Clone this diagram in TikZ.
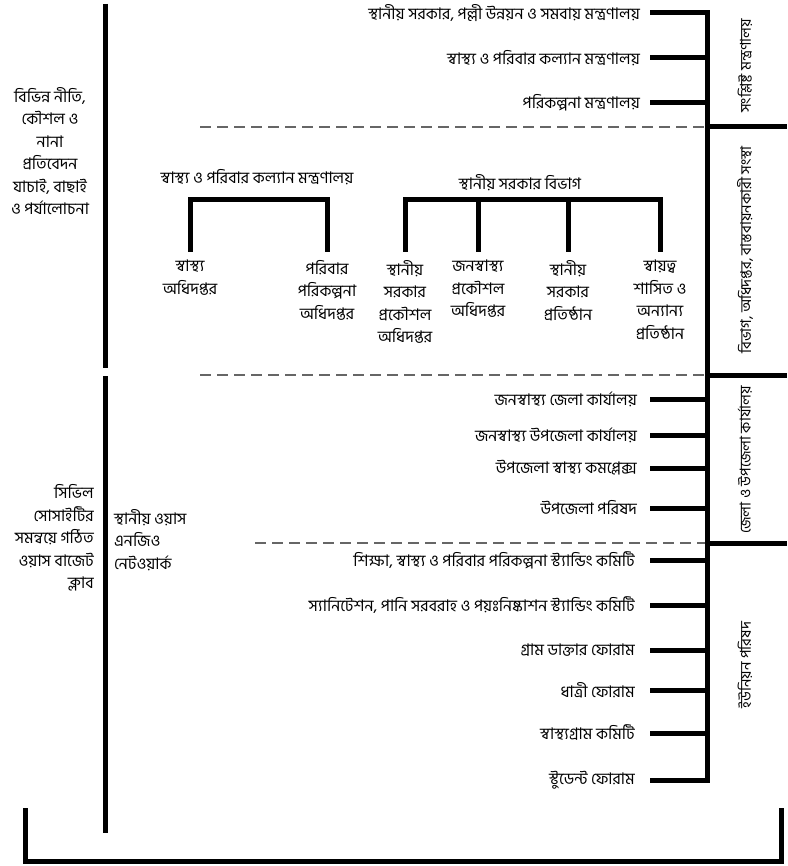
\documentclass[tikz,border=0pt]{standalone}
\usepackage{fontspec}
\setmainfont[Script=Bengali]{Hind Siliguri}
\usetikzlibrary{positioning}

\tikzset{
  bar/.style={line width=5pt},
  sep/.style={line width=1.8pt, black!60, dash pattern=on 11pt off 6pt},
  item/.style={anchor=east, inner sep=0pt, font=\fontsize{16}{18}\selectfont},
  unit/.style={align=center, inner sep=0pt, font=\fontsize{16}{22.5}\selectfont},
  side/.style={rotate=90, inner sep=0pt, font=\fontsize{15}{17}\selectfont}
}

\begin{document}
\begin{tikzpicture}[x=1pt,y=-1pt]
	\useasboundingbox (0,0) rectangle (787,866);
	\coordinate (spine top) at (707,13);
	\coordinate (spine bot) at (707,780);

	\node[unit] (review) at (50,151) {বিভিন্ন নীতি,\\কৌশল ও\\নানা\\প্রতিবেদন\\যাচাই, বাছাই\\ও পর্যালোচনা};
	\node[unit, align=right, anchor=east] (club) at (94,538) {সিভিল\\সোসাইটির\\সমন্বয়ে গঠিত\\ওয়াস বাজেট\\ক্লাব};
	\node[unit, align=left, anchor=west] (ngo) at (114,540) {স্থানীয় ওয়াস\\এনজিও\\নেটওয়ার্ক};

	\node[item] (m1) at (640,13) {স্থানীয় সরকার, পল্লী উন্নয়ন ও সমবায় মন্ত্রণালয়};
	\node[item] (m2) at (640,58) {স্বাস্থ্য ও পরিবার কল্যান মন্ত্রণালয়};
	\node[item] (m3) at (640,103) {পরিকল্পনা মন্ত্রণালয়};

	\node[unit] (mohfw) at (257,177) {স্বাস্থ্য ও পরিবার কল্যান মন্ত্রণালয়};
	\node[unit, anchor=north] (dgh) at (190,260) {স্বাস্থ্য\\অধিদপ্তর};
	\node[unit, anchor=north] (dgfp) at (327,260) {পরিবার\\পরিকল্পনা\\অধিদপ্তর};
	\coordinate (hbar) at (257,200);

	\node[unit] (lgd) at (520,183) {স্থানীয় সরকার বিভাগ};
	\node[unit, anchor=north] (lged) at (405,260) {স্থানীয়\\সরকার\\প্রকৌশল\\অধিদপ্তর};
	\node[unit, anchor=north] (dphe) at (478,260) {জনস্বাস্থ্য\\প্রকৌশল\\অধিদপ্তর};
	\node[unit, anchor=north] (lgi) at (568,260) {স্থানীয়\\সরকার\\প্রতিষ্ঠান};
	\node[unit, anchor=north] (auto) at (660,260) {স্বায়ত্ব\\শাসিত ও\\অন্যান্য\\প্রতিষ্ঠান};
	\coordinate (lbar) at (520,200);

	\node[item] (z1) at (637,399) {জনস্বাস্থ্য জেলা কার্যালয়};
	\node[item] (z2) at (637,435) {জনস্বাস্থ্য উপজেলা কার্যালয়};
	\node[item] (z3) at (637,468) {উপজেলা স্বাস্থ্য কমপ্লেক্স};
	\node[item] (z4) at (637,508) {উপজেলা পরিষদ};

	\node[item] (u1) at (635,560) {শিক্ষা, স্বাস্থ্য ও পরিবার পরিকল্পনা স্ট্যান্ডিং কমিটি};
	\node[item] (u2) at (635,605) {স্যানিটেশন, পানি সরবরাহ ও পয়ঃনিষ্কাশন স্ট্যান্ডিং কমিটি};
	\node[item] (u3) at (635,650) {গ্রাম ডাক্তার ফোরাম};
	\node[item] (u4) at (635,690) {ধাত্রী ফোরাম};
	\node[item] (u5) at (635,733) {স্বাস্থ্যগ্রাম কমিটি};
	\node[item] (u6) at (635,780) {স্টুডেন্ট ফোরাম};

	\node[side] (g1) at (745,66) {সংশ্লিষ্ট মন্ত্রণালয়};
	\node[side] (g2) at (745,250) {বিভাগ, অধিদপ্তর, বাস্তবায়নকারী সংস্থা};
	\node[side] (g3) at (745,460) {জেলা ও উপজেলা কার্যালয়};
	\node[side] (g4) at (745,665) {ইউনিয়ন পরিষদ};

	\coordinate (d1) at (200,127);
	\coordinate (d2) at (200,375);
	\coordinate (d3) at (255,543);
	\draw[sep] (d1) -- (d1 -| spine top);
	\draw[sep] (d2) -- (d2 -| spine top);
	\draw[sep] (d3) -- (d3 -| spine top);
	\draw[bar] (d1 -| spine top) -- ++(80,0);
	\draw[bar] (d2 -| spine top) -- ++(80,0);
	\draw[bar] (d3 -| spine top) -- ++(80,0);

	\draw[bar] ([xshift=10pt]m1.east) -- (spine top) -- (spine bot) -- ([xshift=15pt]u6.east);
	\draw[bar] ([xshift=10pt]m2.east) -- (m2.east -| spine top);
	\draw[bar] ([xshift=10pt]m3.east) -- (m3.east -| spine top);
	\draw[bar] ([xshift=13pt]z1.east) -- (z1.east -| spine top);
	\draw[bar] ([xshift=13pt]z2.east) -- (z2.east -| spine top);
	\draw[bar] ([xshift=13pt]z3.east) -- (z3.east -| spine top);
	\draw[bar] ([xshift=13pt]z4.east) -- (z4.east -| spine top);
	\draw[bar] ([xshift=15pt]u1.east) -- (u1.east -| spine top);
	\draw[bar] ([xshift=15pt]u2.east) -- (u2.east -| spine top);
	\draw[bar] ([xshift=15pt]u3.east) -- (u3.east -| spine top);
	\draw[bar] ([xshift=15pt]u4.east) -- (u4.east -| spine top);
	\draw[bar] ([xshift=15pt]u5.east) -- (u5.east -| spine top);

	\draw[bar] ([yshift=8pt]dgh.north) -- (dgh.north |- hbar) -- (dgfp.north |- hbar) -- ([yshift=8pt]dgfp.north);
	\draw[bar] ([yshift=8pt]lged.north) -- (lged.north |- lbar) -- (auto.north |- lbar) -- ([yshift=8pt]auto.north);
	\draw[bar] ([yshift=8pt]dphe.north) -- (dphe.north |- lbar);
	\draw[bar] ([yshift=8pt]lgi.north) -- (lgi.north |- lbar);

	\draw[bar] (105,4) -- (105,368);
	\draw[bar] (105,376) -- (105,833);
	\draw[bar] (25,808) -- (25,861) -- (781,861) -- (781,808);
\end{tikzpicture}
\end{document}
